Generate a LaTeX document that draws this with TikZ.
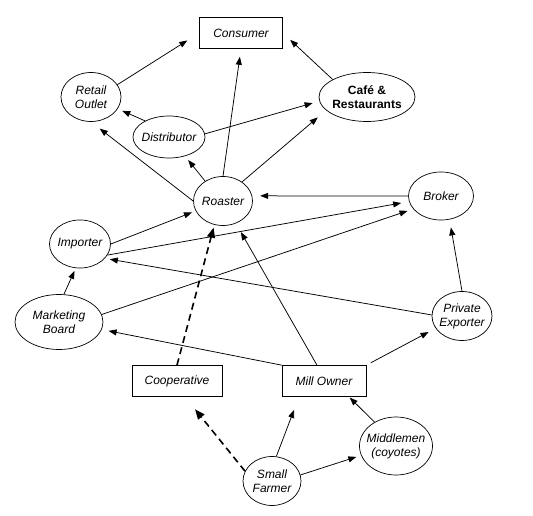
\documentclass[tikz,border=0pt]{standalone}
\usepackage{fontspec}
\setmainfont{Liberation Sans}
\usepackage{tikz}
\usetikzlibrary{positioning,arrows.meta,shapes.geometric}

\begin{document}
\begin{tikzpicture}[
    x=1pt, y=-1pt,
    every node/.style={font=\fontsize{12}{14}\selectfont\itshape, align=center},
    actor/.style={draw, ellipse, line width=0.7pt, inner xsep=-4pt, inner ysep=0pt},
    place/.style={draw, rectangle, line width=0.7pt, minimum height=31pt, inner sep=0pt},
    flow/.style={-{Triangle[length=8pt,width=6pt]}, line width=0.75pt, shorten >=#1},
    flow/.default=8pt,
    coflow/.style={-{Triangle[length=10pt,width=8pt]}, line width=1.6pt, dash pattern=on 7pt off 4.5pt, shorten >=#1},
    coflow/.default=3pt,
]
\useasboundingbox (0,0) rectangle (533,516);

\node[place, minimum width=83pt] (consumer) at (241,33) {Consumer};
\node[actor, minimum width=60pt, minimum height=49pt] (retail) at (91,97) {Retail\\Outlet};
\node[actor, minimum width=96pt, minimum height=49pt, font=\fontsize{12}{14}\selectfont\bfseries] (cafe) at (367,97) {Caf\'e \&\\Restaurants};
\node[actor, minimum width=72pt, minimum height=42pt] (distrib) at (169,137) {Distributor};
\node[actor, minimum width=59pt, minimum height=49pt] (roaster) at (223,201) {Roaster};
\node[actor, minimum width=65pt, minimum height=48pt] (broker) at (441,196) {Broker};
\node[actor, minimum width=61pt, minimum height=48pt] (importer) at (80,244) {Importer};
\node[actor, minimum width=88pt, minimum height=55pt] (mboard) at (59,322) {Marketing\\Board};
\node[actor, minimum width=60pt, minimum height=49pt] (pexport) at (462,316) {Private\\Exporter};
\node[place, minimum width=90pt] (coop) at (177,381) {Cooperative};
\node[place, minimum width=84pt] (mill) at (324,381) {Mill Owner};
\node[actor, minimum width=58pt, minimum height=49pt] (farmer) at (272,481) {Small\\Farmer};
\node[actor, minimum width=73pt, minimum height=58pt] (middle) at (396,446) {Middlemen\\(coyotes)};

\draw[flow=14pt] (retail.25) -- (consumer.west);
\draw[flow] (roaster.north) -- (consumer.south);
\draw[flow=10pt] (cafe.153) -- (consumer.east);
\draw[flow=5pt] (distrib.146) -- (retail);
\draw[flow=7pt] (distrib.5) -- (cafe.185);
\draw[flow=11pt] (roaster.west) -- (retail.south);
\draw[flow=5pt] (roaster.132) -- (distrib.-50);
\draw[flow=11pt] (roaster.45) -- (cafe.198);
\draw[flow] (broker.west) -- (roaster.10);
\draw[flow=4pt] (importer.east) -- (roaster.200);
\draw[flow] (importer.-22) -- (broker.190);
\draw[flow=6pt] (mboard.10) -- (broker.205);
\draw[flow=3pt] (mboard.80) -- (importer.-100);
\draw[flow=5pt] (pexport.178) -- (importer.-30);
\draw[flow] (pexport.north) -- (broker.-70);
\draw[flow=10pt] ([xshift=-7pt]mill.north) -- (roaster.-60);
\draw[flow=7pt] (mill.north west) -- (mboard.-10);
\draw[flow, shorten <=5pt] (mill.north east) -- (pexport.205);
\draw[coflow] (coop.north) -- (roaster.-110);
\draw[coflow=16pt] (farmer.160) -- ([xshift=8pt]coop.south);
\draw[flow=14pt] (farmer.80) -- ([xshift=-25pt]mill.south);
\draw[flow=5pt] (farmer.12) -- (middle.195);
\draw[flow=1pt] (middle.132) -- ([xshift=25pt]mill.south);
\end{tikzpicture}
\end{document}
